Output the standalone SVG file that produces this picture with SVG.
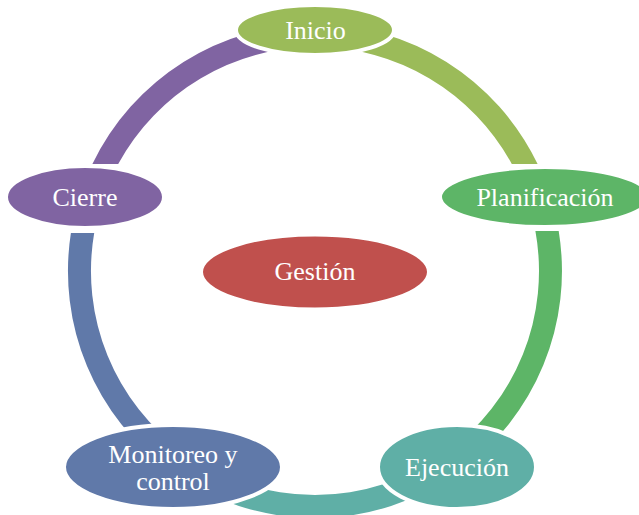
<svg xmlns="http://www.w3.org/2000/svg" width="639" height="515" viewBox="0 0 639 515">
  <style>
    .node { stroke: #ffffff; stroke-width: 4; }
    .label { font-family: "Liberation Serif", "Times New Roman", serif; font-size: 26px; fill: #ffffff; text-anchor: middle; }
  </style>
  <rect width="639" height="515" fill="#ffffff"/>

  <!-- ring segments: annular sectors on a circle centred at (315,271), r 224..247 -->
  <g id="connectors">
    <path id="arc-inicio-planificacion" fill="#9BBB59" d="M 315 24 A 247 247 0 0 1 537.6 164 L 511.8 164 A 224 224 0 0 0 315 47 Z"/>
    <path id="arc-planificacion-ejecucion" fill="#5DB567" d="M 558.7 231 A 247 247 0 0 1 459.8 471.1 L 446.4 452.4 A 224 224 0 0 0 535.4 231 Z"/>
    <path id="arc-ejecucion-monitoreo" fill="#5FAFA6" d="M 459.8 471.1 A 247 247 0 0 1 170.2 471.1 L 183.6 452.4 A 224 224 0 0 0 446.4 452.4 Z"/>
    <path id="arc-monitoreo-cierre" fill="#6079A9" d="M 170.2 471.1 A 247 247 0 0 1 70.9 233 L 94.2 233 A 224 224 0 0 0 183.6 452.4 Z"/>
    <path id="arc-cierre-inicio" fill="#8064A2" d="M 92.4 164 A 247 247 0 0 1 315 24 L 315 47 A 224 224 0 0 0 118.2 164 Z"/>
  </g>

  <g id="gestion">
    <ellipse class="node" cx="315" cy="272" rx="114" ry="37.5" fill="#C0504D"/>
    <text class="label" x="315" y="280">Gestión</text>
  </g>

  <g id="inicio">
    <ellipse class="node" cx="315" cy="30" rx="79" ry="25" fill="#9BBB59"/>
    <text class="label" x="315.5" y="39">Inicio</text>
  </g>

  <g id="planificacion">
    <ellipse class="node" cx="545" cy="197" rx="105" ry="30" fill="#5DB567"/>
    <text class="label" x="545" y="205.5">Planificación</text>
  </g>

  <g id="ejecucion">
    <ellipse class="node" cx="457" cy="467" rx="79" ry="42" fill="#5FAFA6"/>
    <text class="label" x="457" y="476">Ejecución</text>
  </g>

  <g id="monitoreo">
    <ellipse class="node" cx="173" cy="467" rx="109" ry="42" fill="#6079A9"/>
    <text class="label" x="173" y="462.5">Monitoreo y</text>
    <text class="label" x="173" y="490">control</text>
  </g>

  <g id="cierre">
    <ellipse class="node" cx="85" cy="197" rx="79" ry="31" fill="#8064A2"/>
    <text class="label" x="85" y="205.5">Cierre</text>
  </g>
</svg>
